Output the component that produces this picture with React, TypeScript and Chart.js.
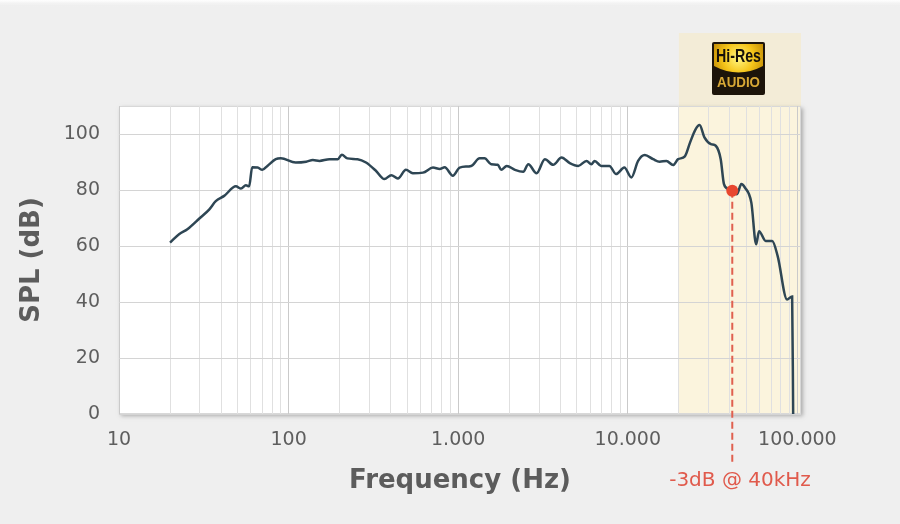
import React, { useEffect, useRef } from 'react';
import { Chart, registerables } from 'chart.js';

Chart.register(...registerables);

// ---- Data ----
const freqHz = [
  20, 22.6, 25.3, 30, 34, 37.2, 41.7, 48.9, 52.4, 56, 58.5, 61, 65.7, 70, 75, 84, 90,
  110, 127, 139, 152, 174, 195, 206, 222, 255, 286, 328, 367, 403, 441, 492, 540, 620,
  710, 778, 833, 930, 1020, 1193, 1338, 1430, 1564, 1712, 1792, 1933, 2160, 2418, 2590,
  2898, 3243, 3631, 4068, 4548, 5100, 5710, 6100, 6380, 6960, 7790, 8530, 9540, 10500,
  11500, 12600, 14100, 15400, 16900, 18500, 19800, 21700, 23300, 25000, 26500, 28300,
  30900, 33000, 35300, 36900, 39300, 41300, 44000, 46700, 49000, 53500, 57100, 59400,
  65000, 71000, 76500, 86900, 93100, 94400,
];
const splDb = [
  61.2, 64.2, 66, 70, 73, 76, 77.9, 81.3, 80.5, 81.7, 81.3, 88.1, 88, 87.2, 88.6, 91, 91.3,
  89.8, 90.1, 90.7, 90.4, 91, 91, 92.6, 91.3, 91, 89.8, 86.8, 83.9, 85.3, 84.1, 87.2, 86, 86.2,
  88, 87.5, 88.1, 85.1, 88, 88.6, 91.3, 91.3, 89.2, 89, 87.2, 88.6, 87.2, 86.5, 89.2,
  86, 91, 89, 91.6, 89.6, 88.6, 90.4, 89.2, 90.4, 88.6, 88.6, 85.7, 88, 84.5,
  90.4, 92.5, 91, 90.1, 90.4, 88.9, 91, 92, 97, 101.5, 103.2, 98.8,
  96.4, 95.8, 91, 82.1, 80.3, 79.7, 78.5, 82.1, 80.9, 75.5, 60.6, 65.3,
  61.8, 61.8, 56.4, 40.9, 42, 0,
];
const xTickValues = [10, 100, 1000, 10000, 100000];
const xTickLabels = ['10', '100', '1.000', '10.000', '100.000'];
const yTickValues = [0, 20, 40, 60, 80, 100];
const markerFreq = 41300;
const markerDb = 79.7;
const markerLabel = '-3dB @ 40kHz';
const hiResStartHz = 20000;
const xTitle = 'Frequency (Hz)';
const yTitle = 'SPL (dB)';
const logoTop = 'Hi-Res';
const logoBottom = 'AUDIO';

// minor log grid built from the decades
const xGridValues: number[] = [];
for (let d = 10; d < 100000; d *= 10) {
  for (let m = 1; m <= 9; m++) xGridValues.push(d * m);
}
xGridValues.push(100000);

const FONT = '"DejaVu Sans", "Liberation Sans", sans-serif';
const TICK_COLOR = '#5e5e5e';
const TITLE_COLOR = '#5c5c5c';

function drawLogo(ctx: CanvasRenderingContext2D, x: number, y: number, s: number) {
  ctx.save();
  const r = 2;
  ctx.beginPath();
  ctx.moveTo(x + r, y);
  ctx.lineTo(x + s - r, y);
  ctx.quadraticCurveTo(x + s, y, x + s, y + r);
  ctx.lineTo(x + s, y + s - r);
  ctx.quadraticCurveTo(x + s, y + s, x + s - r, y + s);
  ctx.lineTo(x + r, y + s);
  ctx.quadraticCurveTo(x, y + s, x, y + s - r);
  ctx.lineTo(x, y + r);
  ctx.quadraticCurveTo(x, y, x + r, y);
  ctx.closePath();
  ctx.fillStyle = '#1c140a';
  ctx.fill();

  ctx.beginPath();
  ctx.moveTo(x + 2, y + 2);
  ctx.lineTo(x + s - 2, y + 2);
  ctx.lineTo(x + s - 2, y + 24);
  ctx.quadraticCurveTo(x + s / 2, y + 37, x + 2, y + 24);
  ctx.closePath();
  const gg = ctx.createRadialGradient(x + s / 2, y + 16, 2, x + s / 2, y + 16, s * 0.6);
  gg.addColorStop(0, '#fff176');
  gg.addColorStop(0.45, '#f5c419');
  gg.addColorStop(1, '#b37c00');
  ctx.fillStyle = gg;
  ctx.fill();

  ctx.textAlign = 'center';
  ctx.textBaseline = 'middle';
  ctx.fillStyle = '#17110a';
  ctx.font = 'bold 18px "Liberation Sans Narrow", "Liberation Sans", sans-serif';
  ctx.fillText(logoTop, x + s / 2, y + 15, s - 8);
  ctx.fillStyle = '#d8a835';
  ctx.font = 'bold 14px "Liberation Sans", sans-serif';
  ctx.fillText(logoBottom, x + s / 2, y + 41, s - 10);
  ctx.restore();
}

const decorPlugin = {
  id: 'decor',
  beforeDraw(chart: any) {
    const { ctx, chartArea: a, scales } = chart;
    const x = scales.x;
    ctx.save();
    const tg = ctx.createLinearGradient(0, 0, 0, 7);
    tg.addColorStop(0, '#ffffff');
    tg.addColorStop(1, 'rgba(239,239,239,0)');
    ctx.fillStyle = tg;
    ctx.fillRect(0, 0, chart.width, 7);

    const bx = x.getPixelForValue(hiResStartHz);
    ctx.fillStyle = '#f3ecd7';
    ctx.fillRect(bx, 33, a.right - bx, a.top - 33);

    ctx.shadowColor = 'rgba(0,0,0,0.28)';
    ctx.shadowBlur = 4;
    ctx.shadowOffsetX = 2;
    ctx.shadowOffsetY = 2;
    ctx.fillStyle = '#ffffff';
    ctx.fillRect(a.left, a.top, a.right - a.left, a.bottom - a.top);
    ctx.shadowColor = 'rgba(0,0,0,0)';
    ctx.shadowBlur = 0;
    ctx.shadowOffsetX = 0;
    ctx.shadowOffsetY = 0;

    ctx.fillStyle = '#fbf4dd';
    ctx.fillRect(bx, a.top, a.right - bx, a.bottom - a.top);

    ctx.strokeStyle = '#d8d8d8';
    ctx.lineWidth = 1;
    ctx.strokeRect(a.left + 0.5, a.top + 0.5, a.right - a.left - 1, a.bottom - a.top - 1);

    drawLogo(ctx, 712, 42, 53);
    ctx.restore();
  },
  beforeDatasetsDraw(chart: any) {
    const { ctx, scales } = chart;
    const mx = scales.x.getPixelForValue(markerFreq);
    const my = scales.y.getPixelForValue(markerDb);
    ctx.save();
    ctx.strokeStyle = '#e0604f';
    ctx.lineWidth = 2;
    ctx.setLineDash([7, 4]);
    ctx.beginPath();
    ctx.moveTo(mx, my);
    ctx.lineTo(mx, 464);
    ctx.stroke();
    ctx.restore();
  },
  afterDraw(chart: any) {
    const { ctx } = chart;
    ctx.save();
    ctx.fillStyle = '#e05a4c';
    ctx.font = `20px ${FONT}`;
    ctx.textAlign = 'center';
    ctx.textBaseline = 'middle';
    ctx.fillText(markerLabel, 740, 481);
    ctx.restore();
  },
};

export default function App() {
  const canvasRef = useRef<HTMLCanvasElement | null>(null);

  useEffect(() => {
    const canvas = canvasRef.current;
    if (!canvas) return;
    const chart = new Chart(canvas, {
      type: 'line',
      data: {
        datasets: [
          {
            data: [{ x: markerFreq, y: markerDb }],
            pointRadius: 6,
            pointBackgroundColor: '#e8472f',
            pointBorderWidth: 0,
            showLine: false,
            order: 0,
          },
          {
            data: freqHz.map((f, i) => ({ x: f, y: splDb[i] })),
            borderColor: '#2e4654',
            borderWidth: 2.5,
            pointRadius: 0,
            cubicInterpolationMode: 'monotone',
            fill: false,
            order: 1,
          },
        ],
      },
      options: {
        responsive: false,
        animation: false,
        events: [],
        layout: { padding: { left: 0, right: 99, top: 106, bottom: 0 } },
        plugins: { legend: { display: false }, tooltip: { enabled: false } },
        scales: {
          x: {
            type: 'logarithmic',
            position: 'bottom',
            min: 10,
            max: 105000,
            afterFit: (s: any) => {
              s.height = 110;
            },
            afterBuildTicks: (s: any) => {
              s.ticks = xGridValues.map((v) => ({ value: v }));
            },
            grid: {
              color: (c: any) =>
                c.tick && xTickValues.includes(c.tick.value) ? '#cacaca' : '#e0e0e0',
              lineWidth: 1,
              drawTicks: false,
            },
            border: { display: false },
            ticks: {
              autoSkip: false,
              maxRotation: 0,
              minRotation: 0,
              padding: 15,
              color: TICK_COLOR,
              font: { family: FONT, size: 19 },
              callback: (v: any) => {
                const i = xTickValues.indexOf(Number(v));
                return i >= 0 ? xTickLabels[i] : '';
              },
            },
            title: {
              display: true,
              text: xTitle,
              color: TITLE_COLOR,
              font: { family: FONT, size: 26, weight: 'bold' },
              padding: { top: 0, bottom: 27 },
            },
          },
          y: {
            min: 0,
            max: 110,
            afterFit: (s: any) => {
              s.width = 119;
            },
            afterBuildTicks: (s: any) => {
              s.ticks = yTickValues.map((v) => ({ value: v }));
            },
            grid: { color: '#d4d4d4', lineWidth: 1, drawTicks: false },
            border: { display: false },
            ticks: {
              padding: 19,
              color: TICK_COLOR,
              font: { family: FONT, size: 19 },
            },
            title: {
              display: true,
              text: yTitle,
              color: TITLE_COLOR,
              font: { family: FONT, size: 26, weight: 'bold' },
              padding: { top: 17, bottom: 0 },
            },
          },
        },
      } as any,
      plugins: [decorPlugin],
    });
    return () => chart.destroy();
  }, []);

  return (
    <div
      style={{
        position: 'absolute',
        left: 0,
        top: 0,
        width: 900,
        height: 524,
        background: '#efefef',
      }}
    >
      <canvas ref={canvasRef} width={900} height={524} style={{ display: 'block' }} />
    </div>
  );
}
